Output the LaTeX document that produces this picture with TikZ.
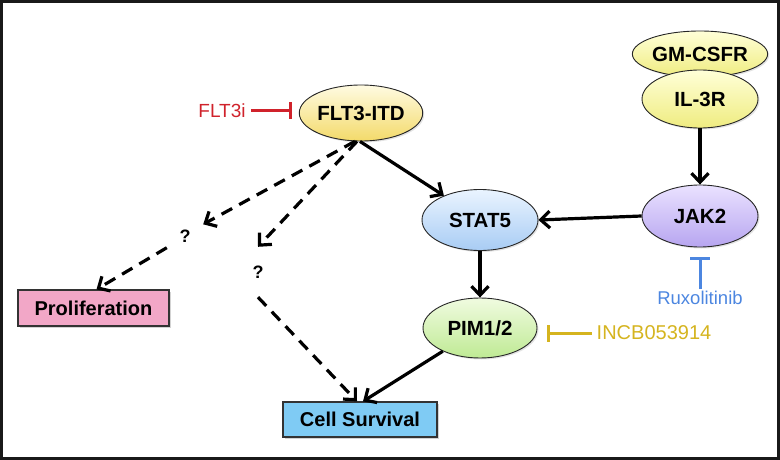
\documentclass[tikz,border=0pt]{standalone}
\usepackage{fontspec}
\setmainfont{Liberation Sans}
\usetikzlibrary{shapes.geometric,arrows.meta,shadows}
\definecolor{fltTop}{HTML}{FFFBE2}
\definecolor{fltBot}{HTML}{F3DA6A}
\definecolor{recTop}{HTML}{FFFFD8}
\definecolor{recBot}{HTML}{EFEC80}
\definecolor{jakTop}{HTML}{EAE2FF}
\definecolor{jakBot}{HTML}{B7A5F0}
\definecolor{statTop}{HTML}{EAF4FF}
\definecolor{statBot}{HTML}{A8CCF4}
\definecolor{pimTop}{HTML}{F0FBE0}
\definecolor{pimBot}{HTML}{BFEA94}
\definecolor{prolFill}{HTML}{F2A7C7}
\definecolor{csFill}{HTML}{7FCBF4}
\definecolor{inhRed}{HTML}{D0222B}
\definecolor{inhBlue}{HTML}{4C86E0}
\definecolor{inhGold}{HTML}{D5B41F}
\begin{document}
\begin{tikzpicture}[x=1pt,y=-1pt,
  oval/.style={ellipse,draw=black!85,line width=0.9pt,inner sep=0pt,
    font=\bfseries\fontsize{20.5}{24}\selectfont,
    drop shadow={opacity=0.22,shadow xshift=1.5pt,shadow yshift=-1.5pt}},
  outbox/.style={rectangle,draw=black!80,line width=1.2pt,inner sep=0pt,
    font=\bfseries\fontsize{20}{24}\selectfont,
    drop shadow={opacity=0.35,shadow xshift=2pt,shadow yshift=-2pt}},
  qmark/.style={inner sep=0pt,font=\bfseries\fontsize{18}{20}\selectfont},
  drug/.style={inner sep=2pt},
  arr/.style={line width=3.2pt,-{Straight Barb[length=9pt,width=17pt]}},
  darr/.style={arr,dash pattern=on 12pt off 8pt},
  inh/.style={line width=3pt,-{Bar[width=17pt]}}
]
\useasboundingbox (0,0) rectangle (780,460);
\draw[line width=3pt,black!90] (1.5,1.5) rectangle (778.5,458.5);

\node[oval,minimum width=120pt,minimum height=56pt,top color=fltTop,bottom color=fltBot] (flt) at (361,113) {FLT3-ITD};
\node[oval,minimum width=116pt,minimum height=46pt,top color=recTop,bottom color=recBot] (gm) at (700,54) {GM-CSFR};
\node[oval,minimum width=116pt,minimum height=58pt,top color=recTop,bottom color=recBot] (il3) at (700,99) {IL-3R};
\node[oval,minimum width=116pt,minimum height=62pt,top color=jakTop,bottom color=jakBot] (jak) at (700,216) {JAK2};
\node[oval,minimum width=116pt,minimum height=61pt,top color=statTop,bottom color=statBot] (stat) at (480,220) {STAT5};
\node[oval,minimum width=114pt,minimum height=60pt,top color=pimTop,bottom color=pimBot] (pim) at (480,328) {PIM1/2};

\node[outbox,fill=prolFill,minimum width=151pt,minimum height=36pt] (prol) at (93.5,308) {Proliferation};
\node[outbox,fill=csFill,minimum width=154pt,minimum height=35pt] (cs) at (360,419.5) {Cell Survival};

\node[qmark,minimum width=36pt,minimum height=23pt] (q1) at (185,236) {?};
\node[qmark,minimum width=10pt,minimum height=50pt] (q2) at (258,272) {?};

\node[drug,text=inhRed,font=\fontsize{19}{22}\selectfont] (flt3i) at (222,111) {FLT3i};
\node[drug,text=inhBlue,font=\fontsize{18.5}{22}\selectfont] (rux) at (700,298) {Ruxolitinib};
\node[drug,text=inhGold,font=\fontsize{20}{24}\selectfont] (incb) at (654,333) {INCB053914};

% solid activation arrows
\draw[arr] (flt.268) -- (stat.146);
\draw[arr] (il3.south) -- (jak.north);
\draw[arr] (jak.west) -- (stat.east);
\draw[arr] (stat.south) -- (pim.north);
\draw[arr] (pim.212) -- ([xshift=3pt]cs.north);

% dashed uncertain arrows
\draw[darr] (flt.258) -- (q1.north east);
\draw[darr] (q1.south west) -- ([xshift=3pt]prol.north);
\draw[darr] (flt.262) -- (q2.north);
\draw[darr] (q2.south) -- ([xshift=-3pt]cs.north);

% inhibitors
\draw[inh,inhRed,shorten <=3pt,shorten >=7pt] (flt3i.east) -- (flt3i.east -| flt.west);
\draw[inh,inhBlue,-{Bar[width=20pt]},shorten >=10pt] (rux.north) -- (jak.south);
\draw[inh,inhGold,shorten <=3pt,shorten >=10pt] (incb.west) -- (incb.west -| pim.east);
\end{tikzpicture}
\end{document}
